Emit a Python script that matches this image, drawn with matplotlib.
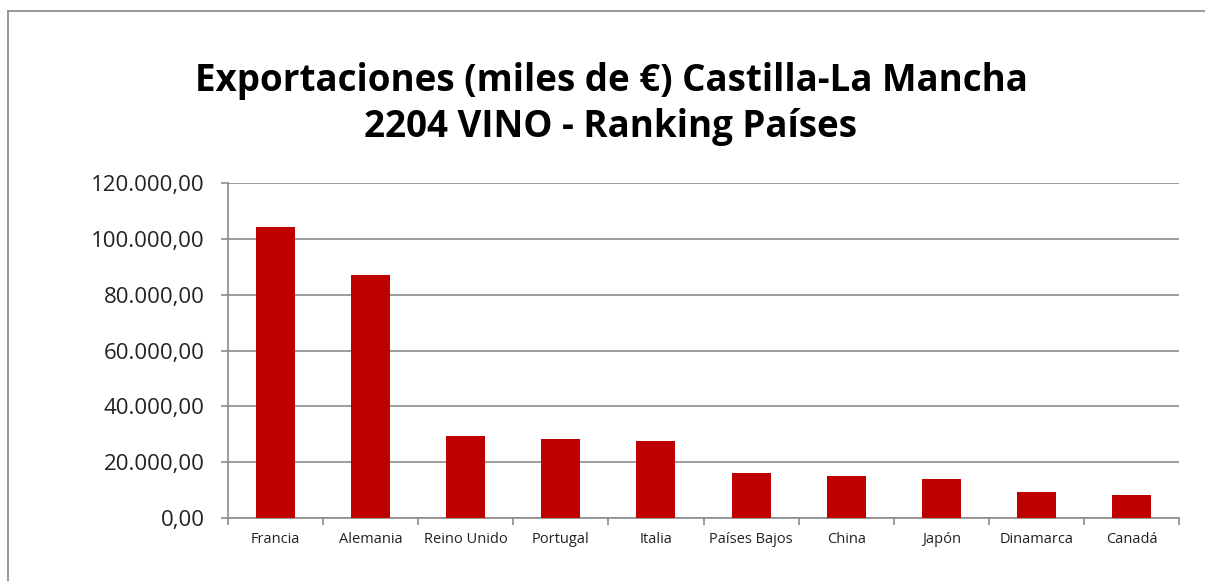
import matplotlib
matplotlib.use("Agg")
import matplotlib.pyplot as plt
from matplotlib.ticker import FuncFormatter, FixedLocator
from matplotlib.lines import Line2D
import numpy as np

countries = ["Francia", "Alemania", "Reino Unido", "Portugal", "Italia",
             "Países Bajos", "China", "Japón", "Dinamarca", "Canadá"]
values = [104100, 87000, 29300, 28250, 27600, 16150, 15050, 13900, 9350, 8150]
title = "Exportaciones (miles de €) Castilla-La Mancha\n2204 VINO - Ranking Países"
yticks = [0, 20000, 40000, 60000, 80000, 100000, 120000]

W, H = 1205, 581
fig = plt.figure(figsize=(W / 100, H / 100), dpi=100)
fig.patch.set_facecolor("white")

ax = fig.add_axes([228 / W, 1 - 518 / H, (1179 - 228) / W, (518 - 183) / H])

x = np.arange(len(countries))
ax.bar(x, values, width=0.41, color="#C00000", zorder=3)
ax.set_xlim(-0.5, len(countries) - 0.5)
ax.set_ylim(0, 120000)

grid_c = "#8C8C8C"
ax.set_yticks(yticks)
ax.yaxis.set_major_formatter(FuncFormatter(
    lambda v, p: "{:,.2f}".format(v).replace(",", "X").replace(".", ",").replace("X", ".")))
ax.yaxis.grid(True, color=grid_c, linewidth=1.2, zorder=0)
ax.set_axisbelow(True)

ax.set_xticks(x)
ax.set_xticklabels(countries)
ax.xaxis.set_minor_locator(FixedLocator(np.arange(-0.5, len(countries), 1.0)))
ax.tick_params(axis="x", which="major", length=0, pad=10, labelsize=10.5, labelcolor="#222222")
ax.tick_params(axis="x", which="minor", length=5, color=grid_c, width=1.2)
ax.tick_params(axis="y", which="major", length=5, color=grid_c, width=1.2,
               pad=12, labelsize=16, labelcolor="#222222")

for lbl in ax.get_xticklabels() + ax.get_yticklabels():
    lbl.set_fontfamily(["Open Sans", "DejaVu Sans"])

for s in ["top", "right"]:
    ax.spines[s].set_visible(False)
for s in ["left", "bottom"]:
    ax.spines[s].set_color(grid_c)
    ax.spines[s].set_linewidth(1.2)

fig.text(611 / W, 1 - 104 / H, title, ha="center", va="center",
         fontsize=26.5, fontweight="bold", family=["Open Sans", "DejaVu Sans"],
         linespacing=1.3, color="black")

# outer chart frame (top and left visible)
fig.add_artist(Line2D([8 / W, 1.05], [1 - 11 / H, 1 - 11 / H], color="#888888", linewidth=1.2))
fig.add_artist(Line2D([8 / W, 8 / W], [-0.05, 1 - 11 / H], color="#888888", linewidth=1.2))

fig.savefig("out.png", dpi=100, facecolor="white")
